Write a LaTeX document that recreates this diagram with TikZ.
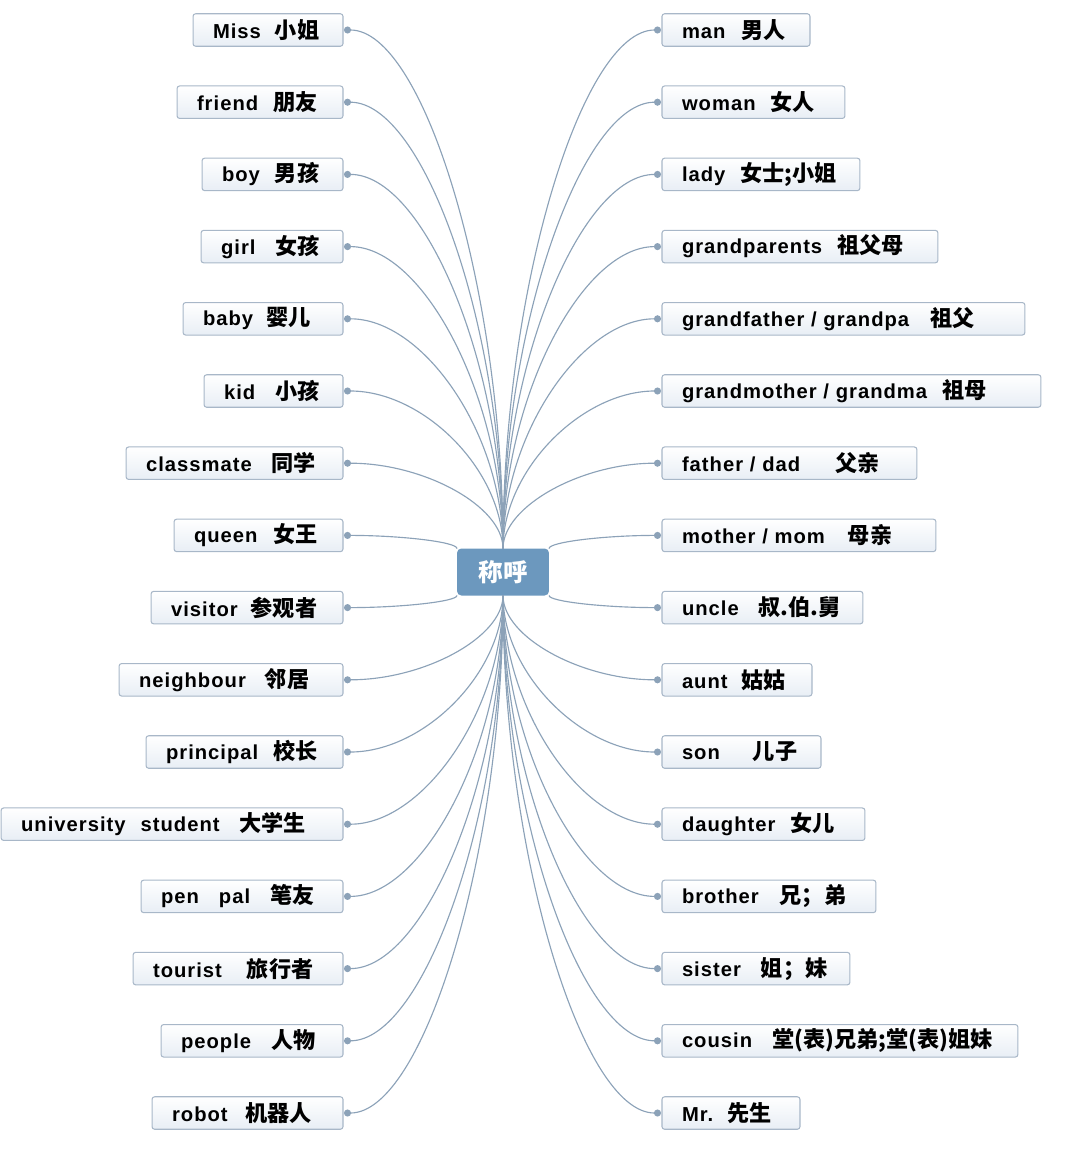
\documentclass[tikz,border=0pt]{standalone}
\usepackage{fontspec}
\setmainfont{Liberation Sans}[LetterSpace=5]
\newfontfamily\cjk{Noto Sans CJK SC}
\newcommand{\zh}[1]{{\cjk\fontsize{12.6}{13}\selectfont #1}}
\usetikzlibrary{calc,arrows.meta}
\definecolor{boxline}{RGB}{168,183,200}
\definecolor{boxfill}{RGB}{232,238,245}
\definecolor{linkc}{RGB}{140,162,184}
\definecolor{hubc}{RGB}{108,152,190}
\tikzset{
  wordbox/.style={draw=boxline, line width=0.6pt, rounded corners=1.5pt,
    top color=white, bottom color=boxfill, minimum height=0.65cm,
    inner xsep=0.4cm, inner ysep=0pt, outer xsep=0.02cm, outer ysep=0pt,
    align=left, font=\bfseries\fontsize{11.5}{13}\selectfont},
  leftbox/.style={wordbox, anchor=east},
  rightbox/.style={wordbox, anchor=west},
  link/.style={draw=linkc, line width=0.65pt, -{Circle[length=4pt]}},
  fan/.style={to path={.. controls ($(\tikztostart)!0.5!(\tikztostart|-\tikztotarget)$)
    and ($(\tikztotarget)!0.5!(\tikztotarget-|\tikztostart)$) .. (\tikztotarget)}}
}
\begin{document}
\begin{tikzpicture}[x=0.02cm, y=-0.02cm]
    \useasboundingbox (0,0) rectangle (1080,1153);
    % centre
    \node (hub) at (503,572) [fill=hubc, rounded corners=2.5pt, minimum width=1.84cm,
      minimum height=0.94cm, outer sep=0pt, text=white,
      font=\bfseries\fontsize{14}{16}\selectfont] {\zh{\fontsize{14}{16}\selectfont 称呼}};
    % left column
    \node (miss) at (344,30) [leftbox, text width=2.20cm] {Miss\kern0.28cm\zh{小姐}};
    \node (friend) at (344,102.2) [leftbox, text width=2.52cm] {friend\kern0.3cm\zh{朋友}};
    \node (boy) at (344,174.4) [leftbox, text width=2.02cm] {boy\kern0.3cm\zh{男孩}};
    \node (girl) at (344,246.6) [leftbox, text width=2.04cm] {girl\kern0.4cm\zh{女孩}};
    \node (baby) at (344,318.8) [leftbox, text width=2.40cm] {baby\kern0.26cm\zh{婴儿}};
    \node (kid) at (344,391) [leftbox, text width=1.98cm] {kid\kern0.4cm\zh{小孩}};
    \node (classmate) at (344,463.2) [leftbox, text width=3.54cm] {classmate\kern0.4cm\zh{同学}};
    \node (queen) at (344,535.4) [leftbox, text width=2.58cm] {queen\kern0.32cm\zh{女王}};
    \node (visitor) at (344,607.6) [leftbox, text width=3.04cm] {visitor\kern0.26cm\zh{参观者}};
    \node (neighbour) at (344,679.8) [leftbox, text width=3.68cm] {neighbour\kern0.38cm\zh{邻居}};
    \node (principal) at (344,752) [leftbox, text width=3.14cm] {principal\kern0.3cm\zh{校长}};
    \node (student) at (344,824.2) [leftbox, text width=6.04cm] {university\kern0.3cm student\kern0.4cm\zh{大学生}};
    \node (penpal) at (344,896.4) [leftbox, text width=3.24cm] {pen\kern0.4cm pal\kern0.4cm\zh{笔友}};
    \node (tourist) at (344,968.6) [leftbox, text width=3.40cm] {tourist\kern0.5cm\zh{旅行者}};
    \node (people) at (344,1040.8) [leftbox, text width=2.84cm] {people\kern0.4cm\zh{人物}};
    \node (robot) at (344,1113) [leftbox, text width=3.02cm] {robot\kern0.35cm\zh{机器人}};
    % right column
    \node (man) at (661,30) [rightbox, text width=2.16cm] {man\kern0.32cm\zh{男人}};
    \node (woman) at (661,102.2) [rightbox, text width=2.86cm] {woman\kern0.3cm\zh{女人}};
    \node (lady) at (661,174.4) [rightbox, text width=3.16cm] {lady\kern0.3cm\zh{女士;小姐}};
    \node (grandparents) at (661,246.6) [rightbox, text width=4.72cm] {grandparents\kern0.3cm\zh{祖父母}};
    \node (grandfather) at (661,318.8) [rightbox, text width=6.46cm] {grandfather~/~grandpa\kern0.42cm\zh{祖父}};
    \node (grandmother) at (661,391) [rightbox, text width=6.78cm] {grandmother~/~grandma\kern0.3cm\zh{祖母}};
    \node (father) at (661,463.2) [rightbox, text width=4.30cm] {father~/~dad\kern0.7cm\zh{父亲}};
    \node (mother) at (661,535.4) [rightbox, text width=4.68cm] {mother~/~mom\kern0.46cm\zh{母亲}};
    \node (uncle) at (661,607.6) [rightbox, text width=3.22cm] {uncle\kern0.4cm\zh{叔.伯.舅}};
    \node (aunt) at (661,679.8) [rightbox, text width=2.20cm] {aunt\kern0.28cm\zh{姑姑}};
    \node (son) at (661,752) [rightbox, text width=2.38cm] {son\kern0.66cm\zh{儿子}};
    \node (daughter) at (661,824.2) [rightbox, text width=3.26cm] {daughter\kern0.3cm\zh{女儿}};
    \node (brother) at (661,896.4) [rightbox, text width=3.48cm] {brother\kern0.42cm\zh{兄；弟}};
    \node (sister) at (661,968.6) [rightbox, text width=2.96cm] {sister\kern0.4cm\zh{姐；妹}};
    \node (cousin) at (661,1040.8) [rightbox, text width=6.32cm] {cousin\kern0.4cm\zh{堂(表)兄弟;堂(表)姐妹}};
    \node (mr) at (661,1113) [rightbox, text width=1.96cm] {Mr.\kern0.28cm\zh{先生}};
    % connectors, left
    \draw [link] (hub.north) to[fan] (miss.east);
    \draw [link] (hub.north) to[fan] (friend.east);
    \draw [link] (hub.north) to[fan] (boy.east);
    \draw [link] (hub.north) to[fan] (girl.east);
    \draw [link] (hub.north) to[fan] (baby.east);
    \draw [link] (hub.north) to[fan] (kid.east);
    \draw [link] (hub.north) to[fan] (classmate.east);
    \draw [link] (hub.north west) to[fan] (queen.east);
    \draw [link] (hub.south west) to[fan] (visitor.east);
    \draw [link] (hub.south) to[fan] (neighbour.east);
    \draw [link] (hub.south) to[fan] (principal.east);
    \draw [link] (hub.south) to[fan] (student.east);
    \draw [link] (hub.south) to[fan] (penpal.east);
    \draw [link] (hub.south) to[fan] (tourist.east);
    \draw [link] (hub.south) to[fan] (people.east);
    \draw [link] (hub.south) to[fan] (robot.east);
    % connectors, right
    \draw [link] (hub.north) to[fan] (man.west);
    \draw [link] (hub.north) to[fan] (woman.west);
    \draw [link] (hub.north) to[fan] (lady.west);
    \draw [link] (hub.north) to[fan] (grandparents.west);
    \draw [link] (hub.north) to[fan] (grandfather.west);
    \draw [link] (hub.north) to[fan] (grandmother.west);
    \draw [link] (hub.north) to[fan] (father.west);
    \draw [link] (hub.north east) to[fan] (mother.west);
    \draw [link] (hub.south east) to[fan] (uncle.west);
    \draw [link] (hub.south) to[fan] (aunt.west);
    \draw [link] (hub.south) to[fan] (son.west);
    \draw [link] (hub.south) to[fan] (daughter.west);
    \draw [link] (hub.south) to[fan] (brother.west);
    \draw [link] (hub.south) to[fan] (sister.west);
    \draw [link] (hub.south) to[fan] (cousin.west);
    \draw [link] (hub.south) to[fan] (mr.west);
\end{tikzpicture}
\end{document}
